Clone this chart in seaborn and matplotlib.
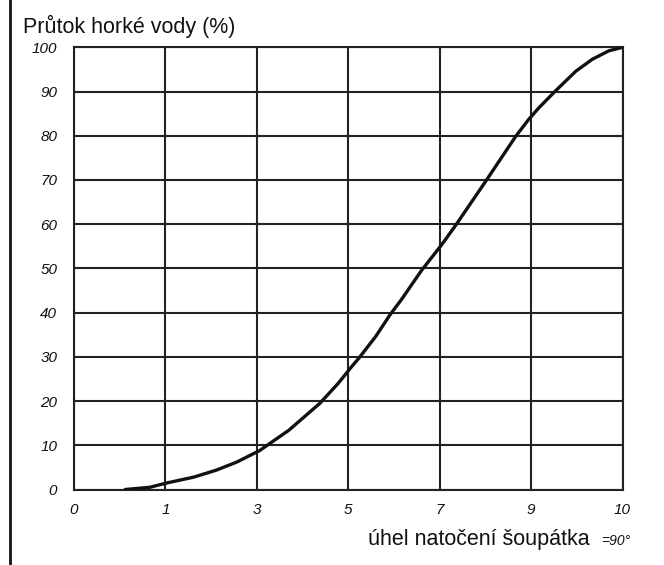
import matplotlib
matplotlib.use("Agg")
import matplotlib.pyplot as plt
import seaborn as sns
import pandas as pd
from matplotlib.lines import Line2D

sns.set_theme(style="white")
plt.rcParams['font.family'] = ['Liberation Sans', 'DejaVu Sans']

# Data (x in evenly spaced tick positions 0..6)
x_tick_labels = ["0", "1", "3", "5", "7", "9", "10"]
y_ticks = [0, 10, 20, 30, 40, 50, 60, 70, 80, 90, 100]
curve_x = [0.56, 0.83, 1.02, 1.31, 1.56, 1.78, 2.03, 2.35, 2.69, 2.89, 3.03,
           3.12, 3.30, 3.46, 3.58, 3.80, 4.02, 4.17, 4.50, 4.83, 4.97, 5.08,
           5.26, 5.49, 5.67, 5.85, 6.00]
curve_y = [0.0, 0.5, 1.5, 2.8, 4.4, 6.2, 8.8, 13.4, 19.5, 24.0, 27.6,
           29.8, 34.6, 39.6, 42.9, 49.5, 55.3, 59.6, 69.6, 79.8, 83.6, 86.2,
           90.0, 94.6, 97.3, 99.2, 100.0]

df = pd.DataFrame({"pos": curve_x, "flow": curve_y})

fig = plt.figure(figsize=(6.64, 5.65), dpi=100)
ax = fig.add_axes([74/664, 1 - 489.5/565, (622.5-74)/664, (489.5-47.3)/565])

sns.lineplot(data=df, x="pos", y="flow", ax=ax, color="#111111",
             linewidth=2.4, sort=False, zorder=5,
             solid_joinstyle="round", solid_capstyle="round")

ax.set_xlim(0, 6)
ax.set_ylim(0, 100)
ax.set_xticks(range(len(x_tick_labels)))
ax.set_xticklabels(x_tick_labels, fontsize=11, style="italic")
ax.set_yticks(y_ticks)
ax.set_yticklabels([str(v) for v in y_ticks], fontsize=11, style="italic")
ax.tick_params(axis="both", which="both", direction="out", length=4,
               width=1.2, color="#222222", labelcolor="#111111")
ax.tick_params(axis="y", pad=8)
ax.tick_params(axis="x", pad=6)
ax.grid(True, color="#222222", linewidth=1.5)
for s in ax.spines.values():
    s.set_color("#222222")
    s.set_linewidth(1.5)
ax.set_xlabel("")
ax.set_ylabel("")

fig.text(23/664, 1 - 26/565, "Průtok horké vody (%)", fontsize=15.5,
         color="#111111", ha="left", va="center")
fig.text(590/664, 1 - 540/565, "úhel natočení šoupátka", fontsize=15.5,
         color="#111111", ha="right", va="center")
fig.text(601/664, 1 - 541/565, "=90°", fontsize=10, style="italic",
         color="#111111", ha="left", va="center")

fig.add_artist(Line2D([10/664, 10/664], [0, 1], transform=fig.transFigure,
                      color="#111111", linewidth=2))

fig.savefig("out.png", dpi=100)
